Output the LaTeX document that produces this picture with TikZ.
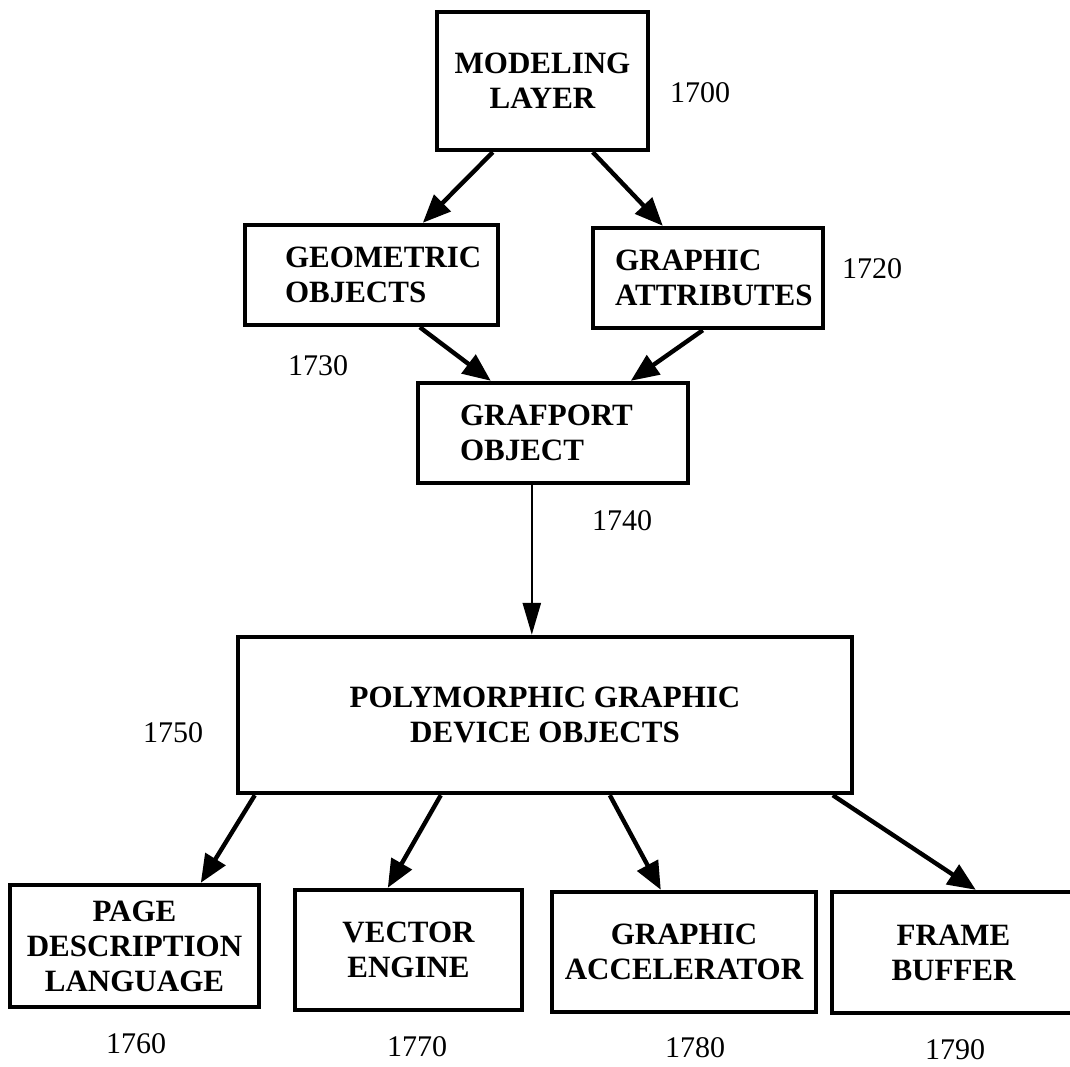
\documentclass[tikz,border=0pt]{standalone}
\usepackage{fontspec}
\setmainfont{Liberation Serif}
\usepackage{tikz}
\usetikzlibrary{calc}
\usetikzlibrary{arrows.meta}
\tikzset{layer box/.style={draw=black, rectangle, line width=2.2pt, align=center, inner sep=0pt, font=\fontsize{15.5}{17.5}\selectfont\bfseries}}
\tikzset{left box/.style={layer box, align=left}}
\tikzset{ref num/.style={font=\fontsize{15}{17.5}\selectfont, inner sep=0pt}}
\tikzset{flow/.style={line width=2.2pt, -{Triangle[length=14pt, width=11.5pt]}}}
\tikzset{thin flow/.style={line width=1.3pt, -{Triangle[length=16pt, width=9pt]}}}

\begin{document}
\begin{tikzpicture}[x=0.5pt, y=-0.5pt]
\clip (0,0) rectangle (1070,1066);
\node[layer box, minimum width=105.5pt, minimum height=69pt] (model) at (542.5,81) {MODELING\\LAYER};
\node[left box, text width=86.5pt, inner xsep=20pt, minimum height=50pt] (geo) at (371.5,275) {GEOMETRIC\\OBJECTS};
\node[left box, text width=93pt, inner xsep=11pt, minimum height=50pt] (attr) at (708,278) {GRAPHIC\\ATTRIBUTES};
\node[left box, text width=93pt, inner xsep=21pt, minimum height=50pt] (graf) at (553,433) {GRAFPORT\\OBJECT};
\node[layer box, minimum width=307pt, minimum height=78pt] (poly) at (545,715) {POLYMORPHIC GRAPHIC\\DEVICE OBJECTS};
\node[layer box, minimum width=124.5pt, minimum height=61pt] (pdl) at (134.5,946) {PAGE\\DESCRIPTION\\LANGUAGE};
\node[layer box, minimum width=113.5pt, minimum height=60pt] (vec) at (408.5,950) {VECTOR\\ENGINE};
\node[layer box, minimum width=132pt, minimum height=60pt] (accel) at (684,952) {GRAPHIC\\ACCELERATOR};
\node[layer box, minimum width=121.5pt, minimum height=60.5pt] (frame) at (953.5,952.5) {FRAME\\BUFFER};

\node[ref num] (n1700) at (700,93) {1700};
\node[ref num] (n1720) at (872,269) {1720};
\node[ref num] (n1730) at (318,366) {1730};
\node[ref num] (n1740) at (622,521) {1740};
\node[ref num] (n1750) at (173,733) {1750};
\node[ref num] (n1760) at (136,1044) {1760};
\node[ref num] (n1770) at (417,1047) {1770};
\node[ref num] (n1780) at (695,1048) {1780};
\node[ref num] (n1790) at (955,1050) {1790};

\draw[flow] ($(model.south west)+(58,0)$) -- ($(geo.north west)+(180,0)$);
\draw[flow] ($(model.south west)+(158,0)$) -- ($(attr.north west)+(72,0)$);
\draw[flow] ($(geo.south west)+(177,0)$) -- ($(graf.north west)+(75,0)$);
\draw[flow] ($(attr.south west)+(112,0)$) -- ($(graf.north west)+(215,0)$);
\draw[thin flow] ($(graf.south west)+(116,0)$) -- ($(poly.north west)+(296,0)$);
\draw[flow] ($(poly.south west)+(19,0)$) -- ($(pdl.north west)+(193,0)$);
\draw[flow] ($(poly.south west)+(205,0)$) -- ($(vec.north west)+(95,0)$);
\draw[flow] ($(poly.south west)+(374,0)$) -- ($(accel.north west)+(111,0)$);
\draw[flow] ($(poly.south west)+(597,0)$) -- ($(frame.north west)+(146,0)$);
\end{tikzpicture}
\end{document}
